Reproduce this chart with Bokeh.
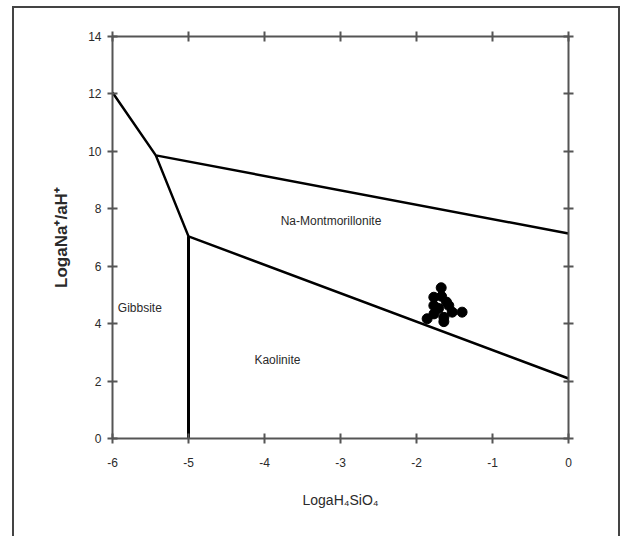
from bokeh.plotting import figure
from bokeh.models import Range1d, LinearAxis, FixedTicker
from bokeh.core.properties import value
from bokeh.embed import file_html
from bokeh.resources import INLINE

# Axis ticks
x_ticks = [-6, -5, -4, -3, -2, -1, 0]
y_ticks = [0, 2, 4, 6, 8, 10, 12, 14]

# Stability field boundaries (log aH4SiO4, log aNa+/aH+)
upper_boundary_x = [-6.0, -5.43, 0.0]
upper_boundary_y = [12.05, 9.86, 7.14]
lower_boundary_x = [-5.43, -5.0, 0.0]
lower_boundary_y = [9.86, 7.04, 2.09]
vertical_boundary_x = [-5.0, -5.0]
vertical_boundary_y = [7.04, 0.0]

# Field labels
field_names = ["Na-Montmorillonite", "Kaolinite"]
field_x = [-3.125, -3.83]
field_y = [7.59, 2.72]
gibbsite_name = ["Gibbsite"]
gibbsite_x = [-5.93]
gibbsite_y = [4.53]

# Water samples
sample_x = [-1.675, -1.772, -1.605, -1.575, -1.772, -1.71, -1.53, -1.77,
            -1.64, -1.86, -1.40, -1.64, -1.67]
sample_y = [5.25, 4.92, 4.75, 4.63, 4.63, 4.53, 4.40, 4.34,
            4.22, 4.17, 4.40, 4.07, 4.95]

FONT = "Liberation Sans"
AXIS_COLOR = "#555555"
TEXT_COLOR = "#2a2a2a"

p = figure(width=621, height=536, output_backend="svg", toolbar_location=None,
           x_range=Range1d(-6, 0), y_range=Range1d(0, 14),
           min_border_left=112, min_border_right=53,
           min_border_top=36, min_border_bottom=98)
p.xgrid.visible = False
p.ygrid.visible = False
p.outline_line_color = None
p.background_fill_color = "white"
p.border_fill_color = None
p.styles = {
    "background-color": "white",
    "background-image": "linear-gradient(#444444,#444444), linear-gradient(#444444,#444444), linear-gradient(#444444,#444444)",
    "background-size": "2px 600px, 608px 2px, 2px 600px",
    "background-position": "12px 6px, 12px 6px, 618px 6px",
    "background-repeat": "no-repeat",
}

def style_axis(ax, ticks, labels=True):
    ax.ticker = FixedTicker(ticks=ticks)
    ax.axis_line_color = AXIS_COLOR
    ax.axis_line_width = 2
    ax.major_tick_line_color = AXIS_COLOR
    ax.major_tick_line_width = 2
    ax.major_tick_in = 5
    ax.major_tick_out = 5
    ax.minor_tick_line_color = None
    ax.major_label_text_font = FONT
    ax.major_label_text_font_size = "12px"
    ax.major_label_text_color = TEXT_COLOR
    ax.axis_label_text_font = FONT
    ax.axis_label_text_color = TEXT_COLOR
    if labels:
        ax.major_label_overrides = {t: str(t) for t in ticks}
    else:
        ax.major_label_overrides = {t: "" for t in ticks}

style_axis(p.xaxis[0], x_ticks)
style_axis(p.yaxis[0], y_ticks)
p.xaxis[0].major_label_standoff = 14
p.yaxis[0].major_label_standoff = 6
p.xaxis[0].axis_label = "LogaH\u2084SiO\u2084"
p.xaxis[0].axis_label_text_font_size = "14px"
p.xaxis[0].axis_label_text_font_style = "normal"
p.xaxis[0].axis_label_standoff = 22
p.yaxis[0].axis_label = "LogaNa\u207a/aH\u207a"
p.yaxis[0].axis_label_text_font_size = "17px"
p.yaxis[0].axis_label_text_font_style = "bold"
p.yaxis[0].axis_label_standoff = 14

top_ax = LinearAxis()
style_axis(top_ax, x_ticks, labels=False)
p.add_layout(top_ax, "above")
right_ax = LinearAxis()
style_axis(right_ax, y_ticks, labels=False)
p.add_layout(right_ax, "right")

# boundaries
p.line(upper_boundary_x, upper_boundary_y, line_color="black", line_width=2.5)
p.line(lower_boundary_x, lower_boundary_y, line_color="black", line_width=2.5)
p.line(vertical_boundary_x, vertical_boundary_y, line_color="black", line_width=3)

# samples
p.scatter(sample_x, sample_y, size=10, marker="circle", fill_color="black",
          line_color="black")

# field labels
p.text(field_x, field_y, text=field_names, text_font=value(FONT),
       text_font_size="12px", text_color=TEXT_COLOR,
       text_align="center", text_baseline="middle")
p.text(gibbsite_x, gibbsite_y, text=gibbsite_name, text_font=value(FONT),
       text_font_size="12px", text_color=TEXT_COLOR,
       text_align="left", text_baseline="middle")

open("out.html", "w").write(file_html(p, INLINE))
